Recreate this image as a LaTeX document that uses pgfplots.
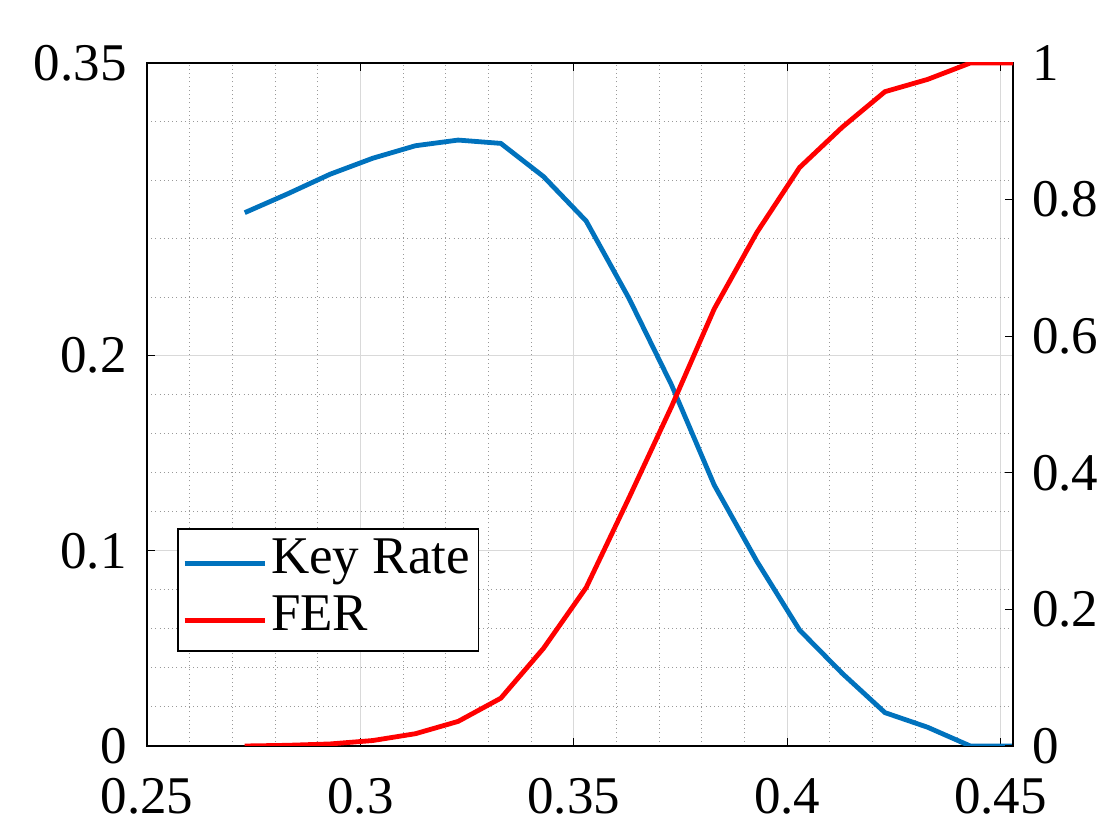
\documentclass[border=0pt]{standalone}
\usepackage{pgfplots}
\pgfplotsset{compat=1.18}
\usepackage{fontspec}
\setmainfont{Liberation Serif}
\definecolor{mblue}{rgb}{0,0.447,0.741}

\pgfplotstableread{
x      kr      fer
0.2729 0.2733  0.000
0.2829 0.2829  0.001
0.2929 0.2930  0.003
0.3029 0.3012  0.008
0.3129 0.3076  0.018
0.3229 0.3105  0.036
0.3329 0.3088  0.070
0.3429 0.2918  0.143
0.3529 0.2690  0.232
0.3629 0.2295  0.363
0.3729 0.1850  0.497
0.3829 0.1337  0.640
0.3929 0.0946  0.752
0.4029 0.0594  0.847
0.4129 0.0372  0.906
0.4229 0.0171  0.958
0.4329 0.0096  0.976
0.4429 0.0000  1.000
0.4529 0.0000  1.000
}\datatable

\begin{document}
\begin{tikzpicture}
\path[use as bounding box] (-73.5pt,-47pt) rectangle (486.5pt,373pt);
\pgfplotsset{
  common/.style={
    scale only axis, width=433pt, height=341.5pt,
    at={(0pt,0pt)}, anchor=south west,
    xmin=0.25, xmax=0.4529,
    tick label style={font=\fontsize{26.5}{30}\selectfont, inner sep=0pt},
    /pgf/number format/assume math mode=true,
    tick align=inside,
    major tick length=4pt,
    minor tick length=0pt,
    every tick/.style={black, line width=0.6pt},
    axis line style={line width=0.6pt, black},
  }
}
\begin{axis}[common,
  ymin=0, ymax=0.35,
  xtick={0.25,0.3,0.35,0.4,0.45},
  xticklabels={\textrm{0.25},\textrm{0.3},\textrm{0.35},\textrm{0.4},\textrm{0.45}},
  minor x tick num=4,
  ytick={0,0.1,0.2,0.35},
  yticklabels={\textrm{0},\textrm{0.1},\textrm{0.2},\textrm{0.35}},
  minor ytick={0.02,0.04,0.06,0.08,0.12,0.14,0.16,0.18,0.23,0.26,0.29,0.32},
  xtick pos=both, ytick pos=left,
  xticklabel style={yshift=-16pt},
  yticklabel style={xshift=-10pt},
  grid=both,
  major grid style={black!15, line width=0.6pt},
  minor grid style={black!40, line width=0.5pt, dash pattern=on 0.5pt off 1.6pt},
]
\addplot[mblue, line width=2.4pt] table[x=x, y=kr] {\datatable};
\end{axis}
\begin{axis}[common,
  ymin=0, ymax=1,
  axis x line=none,
  axis y line*=right,
  ytick={0,0.2,0.4,0.6,0.8,1},
  yticklabels={\textrm{0},\textrm{0.2},\textrm{0.4},\textrm{0.6},\textrm{0.8},\textrm{1}},
  yticklabel style={xshift=9.3pt},
  legend cell align=left,
  legend image code/.code={\draw[#1] (0pt,-1pt) -- (40pt,-1pt);},
  legend style={at={(0.035,0.3187)}, anchor=north west, draw=black,
    line width=0.6pt, font=\fontsize{26.5}{30}\selectfont,
    inner xsep=2.2pt, inner ysep=2pt, row sep=0pt,
    nodes={inner sep=2pt, text height=18.5pt, text depth=6pt}},
]
\addlegendimage{mblue, line width=2.4pt}
\addlegendentry{Key Rate}
\addplot[red, line width=2.4pt] table[x=x, y=fer] {\datatable};
\addlegendentry{FER}
\end{axis}
\end{tikzpicture}
\end{document}
